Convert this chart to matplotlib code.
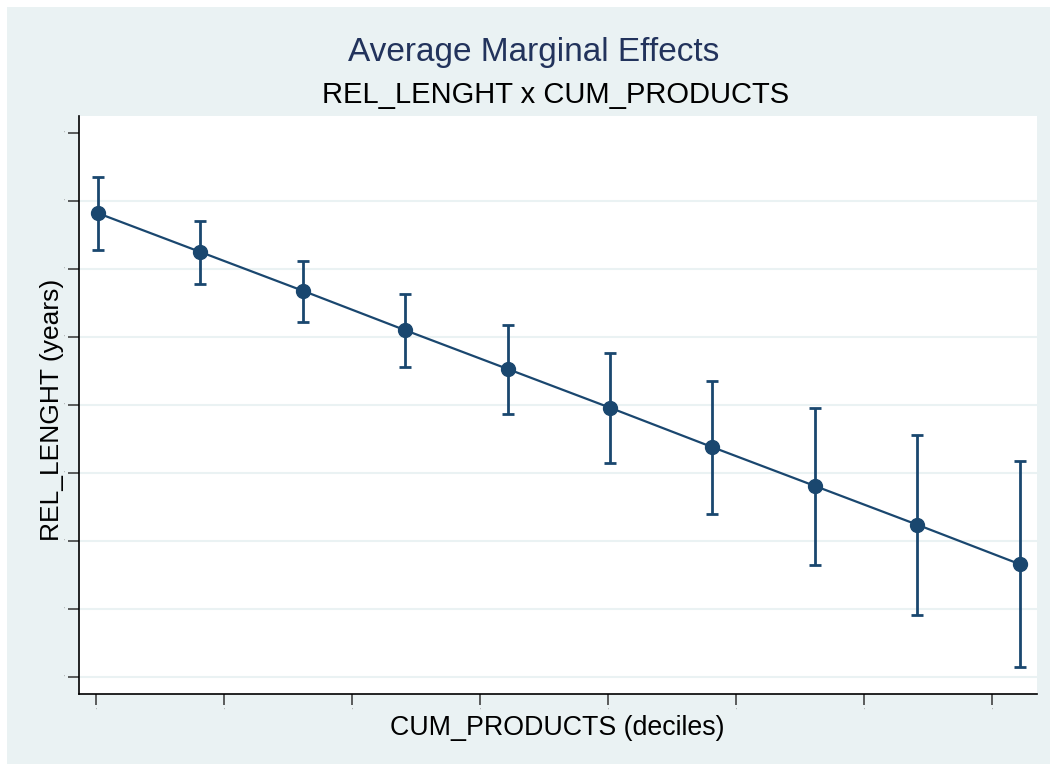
import matplotlib
matplotlib.use("Agg")
import matplotlib.pyplot as plt
from matplotlib.patches import Rectangle

plt.rcParams['font.family'] = ['Liberation Sans', 'DejaVu Sans']

# Data (y in axis units where ticks are 0..8)
deciles = [0, 1, 2, 3, 4, 5, 6, 7, 8, 9]
margins = [6.82, 6.25, 5.68, 5.10, 4.53, 3.96, 3.38, 2.81, 2.24, 1.66]
ci_upper = [7.35, 6.71, 6.12, 5.63, 5.18, 4.76, 4.35, 3.96, 3.56, 3.18]
ci_lower = [6.28, 5.78, 5.22, 4.56, 3.87, 3.15, 2.40, 1.65, 0.91, 0.15]
xticks = [-0.02, 1.23, 2.48, 3.73, 4.98, 6.23, 7.48, 8.73]
yticks = [0, 1, 2, 3, 4, 5, 6, 7, 8]
xticklabels = ["'"] * len(xticks)
yticklabels = ["'"] * len(yticks)

W, H = 1057, 771
bg = '#EAF2F3'
navy = '#1A476F'

fig = plt.figure(figsize=(W / 100, H / 100), dpi=100)
fig.patch.set_facecolor('white')
fig.patches.append(Rectangle((7 / W, 7 / H), 1 - 14 / W, 1 - 14 / H,
                             transform=fig.transFigure, facecolor=bg,
                             edgecolor='none', zorder=-10))

left, right, top, bottom = 79, 1037, 116, 694
ax = fig.add_axes([left / W, 1 - bottom / H, (right - left) / W, (bottom - top) / H])
ax.set_facecolor('white')

yerr = [[m - l for m, l in zip(margins, ci_lower)],
        [u - m for m, u in zip(margins, ci_upper)]]
ax.errorbar(deciles, margins, yerr=yerr, fmt='none', ecolor=navy,
            elinewidth=2.0, capsize=4.5, capthick=2.0, zorder=3)
ax.plot(deciles, margins, color=navy, lw=1.6, marker='o', markersize=10,
        markerfacecolor=navy, markeredgecolor=navy, zorder=4)

ax.set_xlim(-0.186, 9.17)
ax.set_ylim(-0.25, 8.25)
ax.set_xticks(xticks)
ax.set_xticklabels(xticklabels, fontsize=4, color='#888888')
ax.set_yticks(yticks)
ax.set_yticklabels(yticklabels, fontsize=4, color='#888888')
for y in yticks[:-1]:
    ax.axhline(y, color=bg, lw=1.5, zorder=1)

for s in ['top', 'right']:
    ax.spines[s].set_visible(False)
for s in ['left', 'bottom']:
    ax.spines[s].set_color('black')
    ax.spines[s].set_linewidth(1.2)
ax.tick_params(axis='both', direction='out', length=8, width=1.1, color='#333333', pad=2)

fig.text(557 / W, 1 - 728 / H, 'CUM_PRODUCTS (deciles)', fontsize=19.3,
         color='black', ha='center', va='center')
fig.text(52 / W, 1 - 410 / H, 'REL_LENGHT (years)', fontsize=19,
         color='black', ha='center', va='center', rotation=90)

fig.text(534 / W, 1 - 53 / H, 'Average Marginal Effects', fontsize=24,
         color='#22335C', ha='center', va='center')
fig.text(556 / W, 1 - 95 / H, 'REL_LENGHT x CUM_PRODUCTS', fontsize=21,
         color='black', ha='center', va='center')

fig.savefig('out.png', dpi=100, facecolor=fig.get_facecolor())
